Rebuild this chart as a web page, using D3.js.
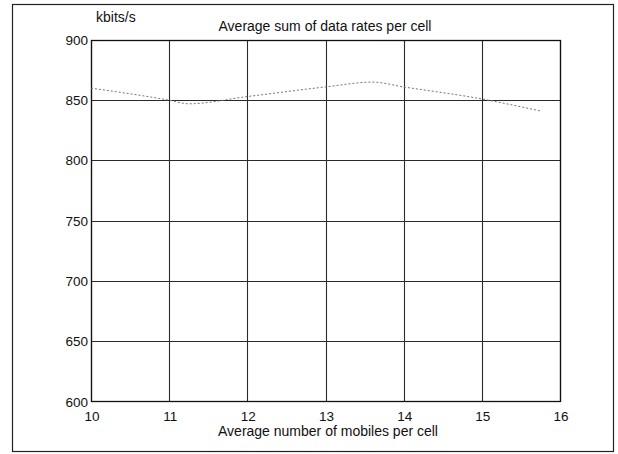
<!DOCTYPE html>
<html>
<head>
<meta charset="utf-8">
<script src="https://cdn.jsdelivr.net/npm/d3@7/dist/d3.min.js"></script>
<style>
  html, body { margin: 0; padding: 0; background: #fff; }
  svg { display: block; }
  text { font-family: "Liberation Sans", Arial, sans-serif; fill: #111; }
</style>
</head>
<body>
<svg id="chart" width="618" height="454"></svg>
<script>
const xValues = [10, 11, 11.25, 12, 13, 13.6, 14, 15, 15.75];
const rateValues = [860, 850, 847, 853, 861, 865, 861, 851, 841];
const xTicks = [10, 11, 12, 13, 14, 15, 16];
const yTicks = [600, 650, 700, 750, 800, 850, 900];
const titleText = "Average sum of data rates per cell";
const unitText = "kbits/s";
const xTitleText = "Average number of mobiles per cell";

const svg = d3.select("#chart");
const m = { left: 91, right: 560, top: 40, bottom: 401 };

// outer frame
svg.append("rect").attr("x", 12.5).attr("y", 4.5).attr("width", 601).attr("height", 447)
  .attr("fill", "none").attr("stroke", "#222").attr("stroke-width", 1.2);

const x = d3.scaleLinear().domain([10, 16]).range([m.left, m.right]);
const y = d3.scaleLinear().domain([600, 900]).range([m.bottom, m.top]);

// grid
const g = svg.append("g");
g.selectAll("line.vg").data(xTicks).join("line")
  .attr("x1", d => Math.round(x(d)) + 0.5).attr("x2", d => Math.round(x(d)) + 0.5)
  .attr("y1", m.top).attr("y2", m.bottom)
  .attr("stroke", "#2a2a2a").attr("stroke-width", 1.1);
g.selectAll("line.hg").data(yTicks).join("line")
  .attr("y1", d => Math.round(y(d)) + 0.5).attr("y2", d => Math.round(y(d)) + 0.5)
  .attr("x1", m.left).attr("x2", m.right)
  .attr("stroke", "#2a2a2a").attr("stroke-width", 1.1);

// plot frame
svg.append("rect").attr("x", m.left + 0.5).attr("y", m.top + 0.5)
  .attr("width", m.right - m.left).attr("height", m.bottom - m.top)
  .attr("fill", "none").attr("stroke", "#111").attr("stroke-width", 1.3);

// y tick labels
svg.selectAll("text.yt").data(yTicks).join("text")
  .attr("x", 88)
  .attr("y", d => y(d) + (d === 600 ? 6 : 5))
  .attr("text-anchor", "end")
  .attr("font-size", 13.5)
  .text(d => d);

// x tick labels
svg.selectAll("text.xt").data(xTicks).join("text")
  .attr("x", d => x(d) + 1)
  .attr("y", 421)
  .attr("text-anchor", "middle")
  .attr("font-size", 13.5)
  .text(d => d);

// titles
svg.append("text").attr("x", 325).attr("y", 31).attr("text-anchor", "middle")
  .attr("font-size", 14).text(titleText);
svg.append("text").attr("x", 96).attr("y", 22).attr("text-anchor", "start")
  .attr("font-size", 14).text(unitText);
svg.append("text").attr("x", 328).attr("y", 436).attr("text-anchor", "middle")
  .attr("font-size", 14).text(xTitleText);

// data line
const pts = xValues.map((v, i) => [v, rateValues[i]]);
const line = d3.line().x(d => x(d[0])).y(d => y(d[1])).curve(d3.curveMonotoneX);
svg.append("path").datum(pts).attr("d", line)
  .attr("fill", "none").attr("stroke", "#777").attr("stroke-width", 1)
  .attr("stroke-dasharray", "2,2");
</script>
</body>
</html>
